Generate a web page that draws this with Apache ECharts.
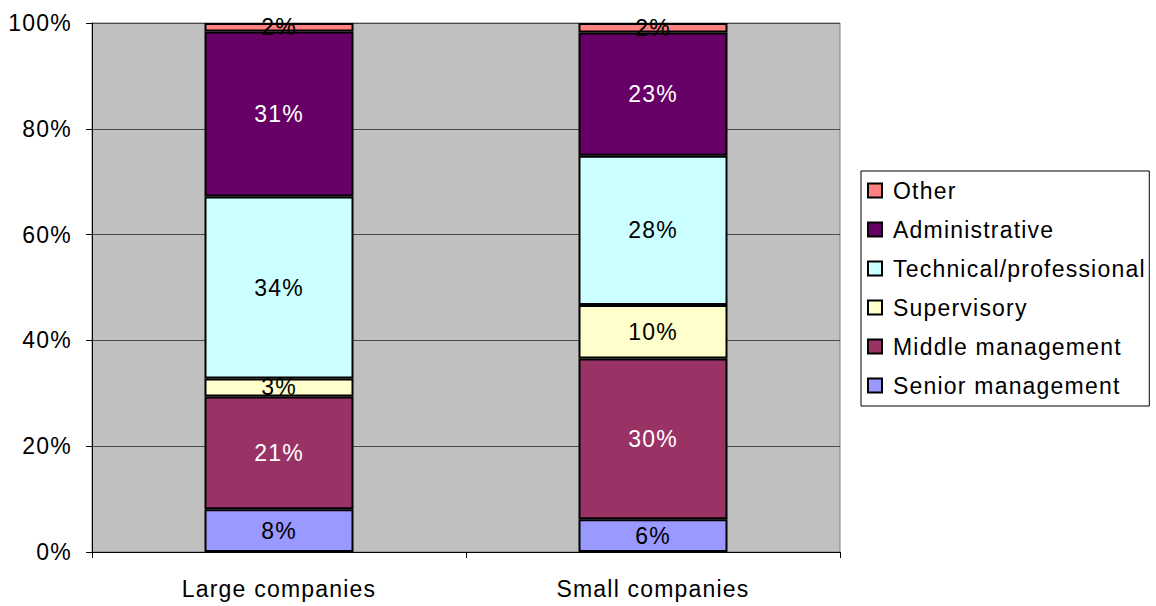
<!DOCTYPE html>
<html>
<head>
<meta charset="utf-8">
<title>Staff composition by company size</title>
<script src="https://cdn.jsdelivr.net/npm/echarts@6/dist/echarts.min.js"></script>
<style>
  html, body { margin: 0; padding: 0; background: #ffffff; }
  #chart { width: 1156px; height: 606px; }
  /* slightly wide Arial-style lettering */
  #chart svg text { letter-spacing: 1.2px; }
</style>
</head>
<body>
<div id="chart"></div>
<script>
// Share of staff by job level (percent of all staff, each column totals 100%)
const categories = ['Large companies', 'Small companies'];
const seniorManagement = [8.1, 6.2];
const middleManagement = [21.3, 30.4];
const supervisory = [3.4, 10.1];
const technicalProfessional = [34.4, 28.2];
const administrative = [31.2, 23.3];
const other = [1.6, 1.8];
const yTicks = [0, 20, 40, 60, 80, 100];

const FONT = '"Liberation Sans", Arial, sans-serif';
const FS = 23;

function layer(name, data, color, labelColor) {
  return {
    name: name,
    type: 'bar',
    stack: 'total',
    data: data,
    barWidth: 149,
    itemStyle: { color: color, borderColor: '#000000', borderWidth: 2 },
    label: {
      show: true,
      position: 'inside',
      color: labelColor,
      fontFamily: FONT,
      fontSize: FS,
      formatter: p => Math.round(p.value) + '%'
    },
    emphasis: { disabled: true }
  };
}

const chart = echarts.init(document.getElementById('chart'), null, { renderer: 'svg' });

chart.setOption({
  backgroundColor: '#ffffff',
  animation: false,
  textStyle: { fontFamily: FONT, color: '#000000' },
  grid: {
    left: 92, right: 316, top: 23, bottom: 54,
    show: true,
    backgroundColor: '#C0C0C0',
    borderColor: '#808080',
    borderWidth: 1
  },
  legend: {
    orient: 'vertical',
    left: 861,
    top: 171,
    data: ['Other', 'Administrative', 'Technical/professional', 'Supervisory', 'Middle management', 'Senior management'],
    itemWidth: 14,
    itemHeight: 14,
    itemGap: 16,
    padding: [8, 30, 9, 6],
    backgroundColor: '#ffffff',
    borderColor: '#000000',
    borderWidth: 1,
    borderRadius: 0,
    icon: 'rect',
    itemStyle: { borderColor: '#000000', borderWidth: 2 },
    textStyle: { fontFamily: FONT, fontSize: FS, color: '#000000', lineHeight: 23, padding: [0, 0, 0, 6] }
  },
  xAxis: {
    type: 'category',
    data: categories,
    axisLine: { lineStyle: { color: '#000000', width: 1 } },
    axisTick: { show: true, length: 6, lineStyle: { color: '#000000' } },
    axisLabel: { fontFamily: FONT, fontSize: FS, color: '#000000', margin: 25 },
    splitLine: { show: false }
  },
  yAxis: {
    type: 'value',
    min: yTicks[0],
    max: yTicks[yTicks.length - 1],
    interval: yTicks[1] - yTicks[0],
    axisLine: { show: true, lineStyle: { color: '#000000', width: 1 } },
    axisTick: { show: true, length: 6, lineStyle: { color: '#000000' } },
    axisLabel: { fontFamily: FONT, fontSize: FS, color: '#000000', margin: 20, formatter: '{value}%' },
    splitLine: { show: true, lineStyle: { color: '#4a4a4a', width: 1 } }
  },
  series: [
    layer('Senior management', seniorManagement, '#9999FF', '#000000'),
    layer('Middle management', middleManagement, '#993366', '#ffffff'),
    layer('Supervisory', supervisory, '#FFFFCC', '#000000'),
    layer('Technical/professional', technicalProfessional, '#CCFFFF', '#000000'),
    layer('Administrative', administrative, '#660066', '#ffffff'),
    layer('Other', other, '#FF8080', '#000000')
  ]
});
</script>
</body>
</html>
